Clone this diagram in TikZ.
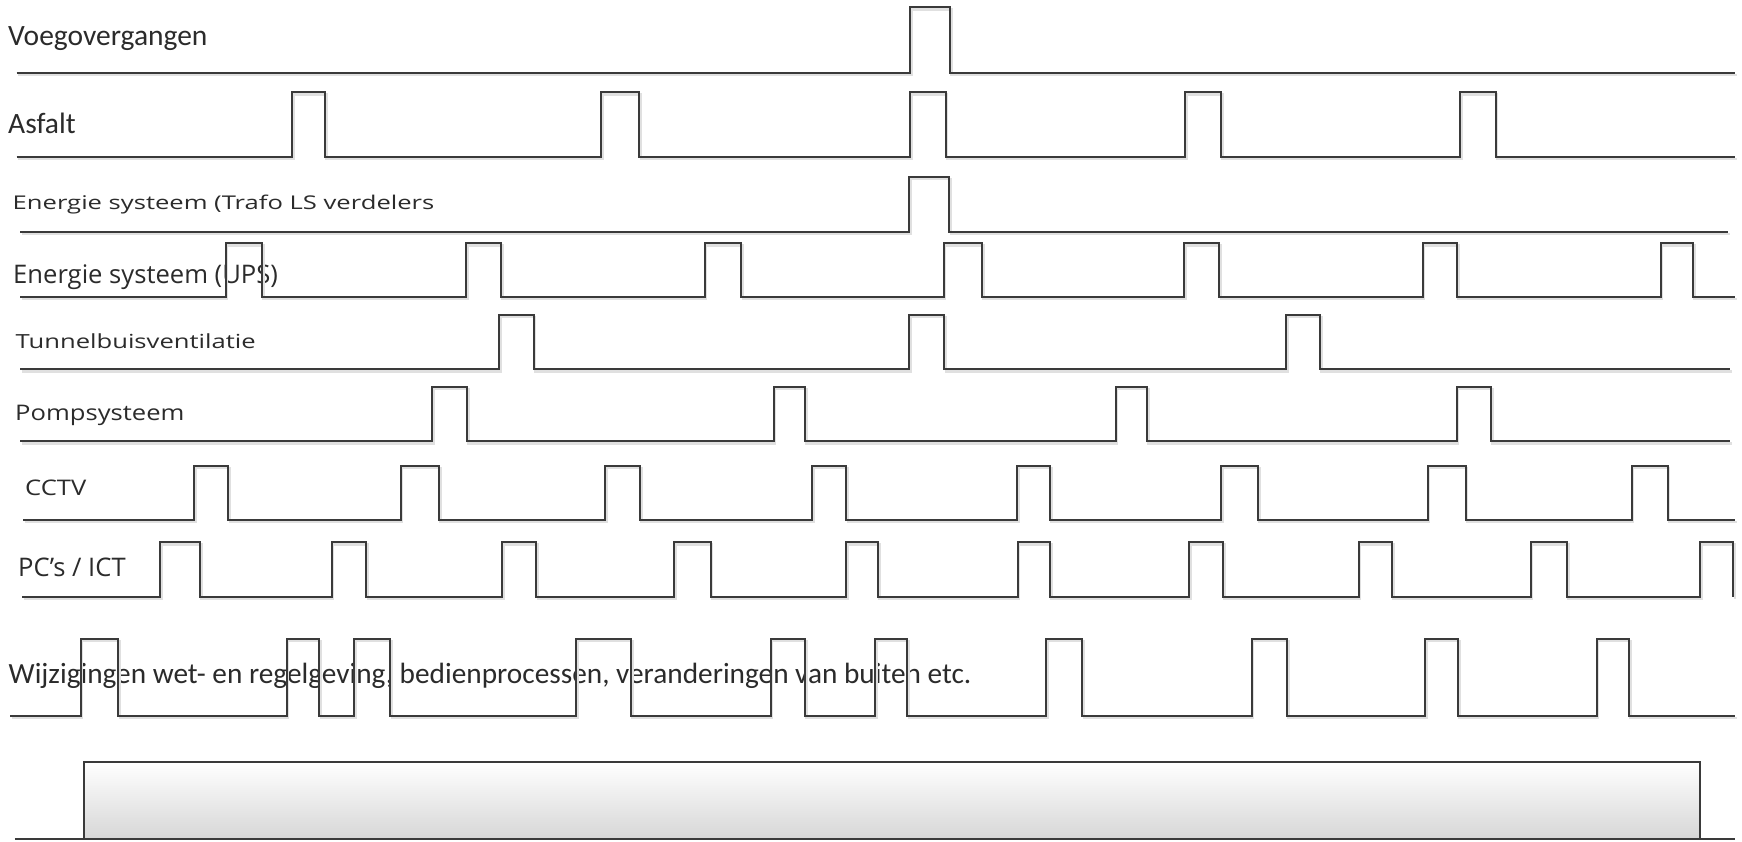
\documentclass[tikz,border=0pt]{standalone}
\usepackage{fontspec}
\setmainfont{Carlito}
\newfontfamily\osans{Open Sans}
\definecolor{linec}{HTML}{3A3A3A}
\definecolor{txtc}{HTML}{2B2B2B}
\tikzset{
  sig/.style={draw=linec, line width=2pt, line join=miter},
  shadowline/.style={draw=black!12, line width=2.4pt},
  lblA/.style={inner sep=0pt, anchor=base west, text=txtc, font=\fontsize{29.5}{31}\selectfont},
  lblW/.style={inner sep=0pt, anchor=base west, text=txtc, font=\fontsize{29.3}{31}\selectfont},
  lblB/.style={inner sep=0pt, anchor=base west, text=txtc, font=\osans\fontsize{25.6}{27}\selectfont},
}
\newcommand\pulserow[5]{%
  \draw[shadowline] (#3+1.5,#1+2) \foreach \pa/\pb in {#5} { -- (\pa+1.5,#1+2) -- (\pa+1.5,#2+2) -- (\pb+1.5,#2+2) -- (\pb+1.5,#1+2) } -- (#4+1.5,#1+2);
  \draw[sig] (#3,#1) \foreach \pa/\pb in {#5} { -- (\pa,#1) -- (\pa,#2) -- (\pb,#2) -- (\pb,#1) } -- (#4,#1);
}
\begin{document}
\begin{tikzpicture}[x=1pt,y=-1pt]
\fill[white] (0,0) rectangle (1742,841);
\useasboundingbox (0,0) rectangle (1742,841);

% labels
\node[lblA] (voeg) at (8,45) {Voegovergangen};
\node[lblA] (asfalt) at (8,133.3) {Asfalt};
\node[lblB] (trafo) at (12.5,209) {\scalebox{1}[0.74]{Energie systeem (Trafo LS verdelers}};
\node[lblB] (ups) at (13,283.3) {Energie systeem (UPS)};
\node[lblB] (tunnel) at (15.5,348.3) {\scalebox{1}[0.76]{Tunnelbuisventilatie}};
\node[lblB] (pomp) at (15,420) {\scalebox{1}[0.84]{Pompsysteem}};
\node[lblB] (cctv) at (25,495) {\scalebox{1}[0.84]{CCTV}};
\node[lblB] (pc) at (18,576.7) {PC’s / ICT};
\node[lblW] (wijz) at (8.5,683.3) {Wijzigingen wet- en regelgeving, bedienprocessen, veranderingen van buiten etc.};

% pulse trains
\pulserow{72.7}{7.3}{16.6}{1735}{910/950}
\pulserow{156.7}{92.3}{16.6}{1735}{292.3/324.8, 601.1/639.2, 910.4/945.5, 1184.8/1221, 1460.4/1495.6}
\pulserow{231.7}{176.7}{20.3}{1728}{909.3/949.2}
\pulserow{296.7}{243.3}{20.3}{1735}{225.7/262, 466/501, 704.7/741.3, 943.7/982, 1184/1219.2, 1422.7/1457, 1660.5/1693}
\pulserow{369.3}{315}{20.3}{1730}{499.4/533.5, 909.3/944.4, 1285.8/1319.8}
\pulserow{441.3}{386.7}{20.3}{1730}{432/467, 773.5/805, 1115.7/1147.1, 1456.7/1491.1}
\pulserow{520}{465.7}{23}{1735}{194.2/228.3, 400.7/439.1, 605.2/639.9, 812/846.4, 1016.9/1049.8, 1221/1258, 1427.5/1465.6, 1631.7/1667.6}
\pulserow{596.7}{542.3}{22}{1733.4}{159.8/199.8, 331.5/366.3, 502/536.4, 674.3/710.6, 846.4/877.8, 1017.7/1049.8, 1188.9/1222.9, 1358.7/1392, 1530.7/1567, 1700.1/1733.4}
\pulserow{716}{639}{10.4}{1735}{80.7/118.4, 286.7/319.3, 354.4/390.3, 576/631, 770.5/805, 874.9/907.4, 1046.1/1082.4, 1251.7/1286.9, 1424.9/1457.8, 1596.6/1629.1}

% long block
\shade[top color=white, bottom color=black!16] (84.4,762.3) rectangle (1700,839.3);
\draw[sig] (84.4,839.3) -- (84.4,762.3) -- (1700,762.3) -- (1700,839.3);
\draw[sig] (14.8,839.3) -- (1735,839.3);
\end{tikzpicture}
\end{document}
